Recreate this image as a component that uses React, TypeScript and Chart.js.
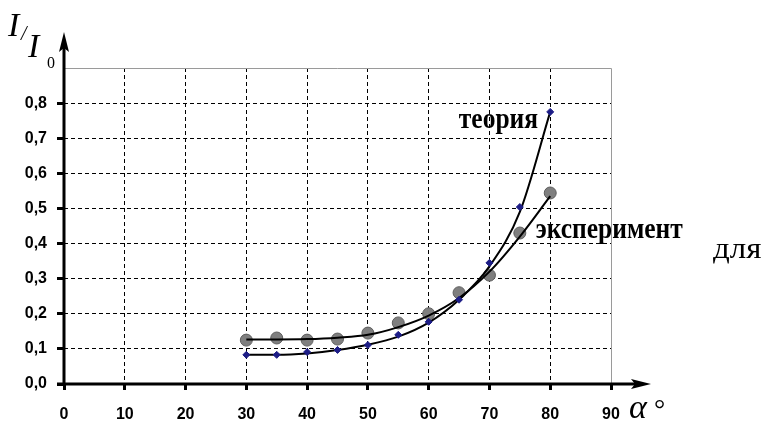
import React, { useEffect, useRef } from "react";
import { Chart, registerables } from "chart.js";

Chart.register(...registerables);

// ---- data ----
const angles = [30, 35, 40, 45, 50, 55, 60, 65, 70, 75, 80];
const theoryPoints = [0.083, 0.083, 0.091, 0.097, 0.111, 0.14, 0.177, 0.24, 0.345, 0.504, 0.775];
const experimentPoints = [0.125, 0.131, 0.125, 0.128, 0.145, 0.174, 0.2, 0.26, 0.31, 0.43, 0.544];
const theoryTrend = [0.083, 0.083, 0.087, 0.097, 0.112, 0.135, 0.175, 0.24, 0.335, 0.49, 0.775];
const experimentTrend = [0.127, 0.127, 0.128, 0.132, 0.14, 0.162, 0.195, 0.245, 0.32, 0.42, 0.535];
const xTickValues = [0, 10, 20, 30, 40, 50, 60, 70, 80, 90];
const yTickValues = [0, 0.1, 0.2, 0.3, 0.4, 0.5, 0.6, 0.7, 0.8, 0.9];
const theoryLabel = "теория";
const experimentLabel = "эксперимент";
const sideText = "для";

const toXY = (ys: number[]) => angles.map((x, i) => ({ x, y: ys[i] }));
const near = (a: number, b: number) => Math.abs(a - b) < 1e-6;

const drawScaled = (ctx: any, text: string, x: number, y: number, sx: number, align: string) => {
  ctx.save();
  ctx.translate(x, y);
  ctx.scale(sx, 1);
  ctx.textAlign = align;
  ctx.fillText(text, 0, 0);
  ctx.restore();
};

const decor = {
  id: "decor",
  afterDraw(chart: any) {
    const { ctx, chartArea: a, scales } = chart;
    const xs = scales.x;
    const ys = scales.y;
    ctx.save();
    // top & right solid border
    ctx.strokeStyle = "#9a9a9a";
    ctx.lineWidth = 1;
    ctx.beginPath();
    ctx.moveTo(a.left, a.top + 0.5);
    ctx.lineTo(a.right + 0.5, a.top + 0.5);
    ctx.lineTo(a.right + 0.5, a.bottom);
    ctx.stroke();
    // axes
    ctx.strokeStyle = "#000";
    ctx.fillStyle = "#000";
    ctx.lineWidth = 3;
    ctx.beginPath();
    ctx.moveTo(a.left, a.bottom + 1);
    ctx.lineTo(a.left, a.top - 25);
    ctx.stroke();
    ctx.beginPath();
    ctx.moveTo(a.left - 7, a.bottom);
    ctx.lineTo(a.right + 25, a.bottom);
    ctx.stroke();
    // arrow heads
    ctx.beginPath();
    ctx.moveTo(a.left, a.top - 36);
    ctx.lineTo(a.left - 5, a.top - 16);
    ctx.lineTo(a.left, a.top - 20);
    ctx.lineTo(a.left + 5, a.top - 16);
    ctx.closePath();
    ctx.fill();
    ctx.beginPath();
    ctx.moveTo(a.right + 40, a.bottom);
    ctx.lineTo(a.right + 20, a.bottom - 5);
    ctx.lineTo(a.right + 24, a.bottom);
    ctx.lineTo(a.right + 20, a.bottom + 5);
    ctx.closePath();
    ctx.fill();

    // series labels
    ctx.fillStyle = "#000";
    ctx.textBaseline = "alphabetic";
    ctx.font = "bold 30px 'Liberation Serif'";
    drawScaled(ctx, theoryLabel, xs.getPixelForValue(78.0), ys.getPixelForValue(0.73), 0.85, "right");
    drawScaled(ctx, experimentLabel, xs.getPixelForValue(77.6), ys.getPixelForValue(0.415), 0.85, "left");
    ctx.font = "30px 'Liberation Serif'";
    drawScaled(ctx, sideText, 713, 258, 1.1, "left");

    // axis titles
    ctx.textAlign = "left";
    ctx.font = "italic 34px 'Liberation Serif'";
    ctx.fillText("α", a.right + 18, a.bottom + 34);
    ctx.font = "28px 'Liberation Serif'";
    ctx.fillText("°", a.right + 43, a.bottom + 34);

    ctx.font = "italic 34px 'Liberation Serif'";
    ctx.fillText("I", 8, 36);
    ctx.font = "italic 20px 'Liberation Serif'";
    ctx.fillText("/", 21, 40);
    ctx.font = "italic 34px 'Liberation Serif'";
    ctx.fillText("I", 28, 57);
    ctx.font = "16px 'Liberation Serif'";
    ctx.fillText("0", 47, 68);
    ctx.restore();
  },
};

export default function App() {
  const ref = useRef<HTMLCanvasElement>(null);
  useEffect(() => {
    const chart = new Chart(ref.current!, {
      type: "scatter",
      data: {
        datasets: [
          {
            label: theoryLabel,
            data: toXY(theoryPoints),
            pointStyle: "rectRot",
            pointRadius: 3.5,
            backgroundColor: "#1c1c86",
            borderColor: "#1c1c86",
            borderWidth: 1,
            showLine: false,
            order: 0,
          },
          {
            label: "trend-theory",
            data: toXY(theoryTrend),
            showLine: true,
            pointRadius: 0,
            borderColor: "#000",
            borderWidth: 2,
            cubicInterpolationMode: "monotone",
            order: 1,
          },
          {
            label: "trend-exp",
            data: toXY(experimentTrend),
            showLine: true,
            pointRadius: 0,
            borderColor: "#000",
            borderWidth: 2,
            cubicInterpolationMode: "monotone",
            order: 1,
          },
          {
            label: experimentLabel,
            data: toXY(experimentPoints),
            pointStyle: "circle",
            pointRadius: 6,
            backgroundColor: "#7f7f7f",
            borderColor: "#5e5e5e",
            borderWidth: 1,
            showLine: false,
            order: 2,
          },
        ],
      },
      options: {
        animation: false,
        responsive: false,
        layout: { padding: { top: 68, right: 153, left: 0, bottom: 0 } },
        plugins: { legend: { display: false }, tooltip: { enabled: false } },
        scales: {
          x: {
            type: "linear",
            min: 0,
            max: 90,
            afterBuildTicks: (s: any) => {
              s.ticks = xTickValues.map((v) => ({ value: v }));
            },
            afterFit: (s: any) => {
              s.height = 39;
            },
            border: { display: false, dash: [4, 3] },
            grid: {
              color: (c: any) => (c.tick && (c.tick.value === 0 || c.tick.value === 90) ? "rgba(0,0,0,0)" : "#000"),
              lineWidth: 1,
              tickColor: "#000",
              tickWidth: 3,
              tickLength: 6,
              tickBorderDash: [],
            },
            ticks: {
              autoSkip: false,
              maxRotation: 0,
              padding: 15,
              color: "#000",
              font: { family: "'Liberation Sans'", size: 16, weight: "bold" },
            },
          },
          y: {
            min: 0,
            max: 0.9,
            afterBuildTicks: (s: any) => {
              s.ticks = yTickValues.map((v) => ({ value: v }));
            },
            afterFit: (s: any) => {
              s.width = 64;
            },
            border: { display: false, dash: [4, 3] },
            grid: {
              color: (c: any) =>
                c.tick && (near(c.tick.value, 0) || near(c.tick.value, 0.9)) ? "rgba(0,0,0,0)" : "#000",
              lineWidth: 1,
              tickColor: (c: any) => (c.tick && near(c.tick.value, 0.9) ? "rgba(0,0,0,0)" : "#000"),
              tickWidth: 3,
              tickLength: 7,
              tickBorderDash: [],
            },
            ticks: {
              autoSkip: false,
              padding: 10,
              color: "#000",
              font: { family: "'Liberation Sans'", size: 16, weight: "bold" },
              callback: (v: any) => (near(Number(v), 0.9) ? "" : Number(v).toFixed(1).replace(".", ",")),
            },
          },
        },
      },
      plugins: [decor],
    });
    return () => chart.destroy();
  }, []);
  return (
    <div style={{ position: "absolute", left: 0, top: 0, width: 764, height: 423, background: "#fff" }}>
      <canvas ref={ref} width={764} height={423} style={{ width: 764, height: 423, display: "block" }} />
    </div>
  );
}
